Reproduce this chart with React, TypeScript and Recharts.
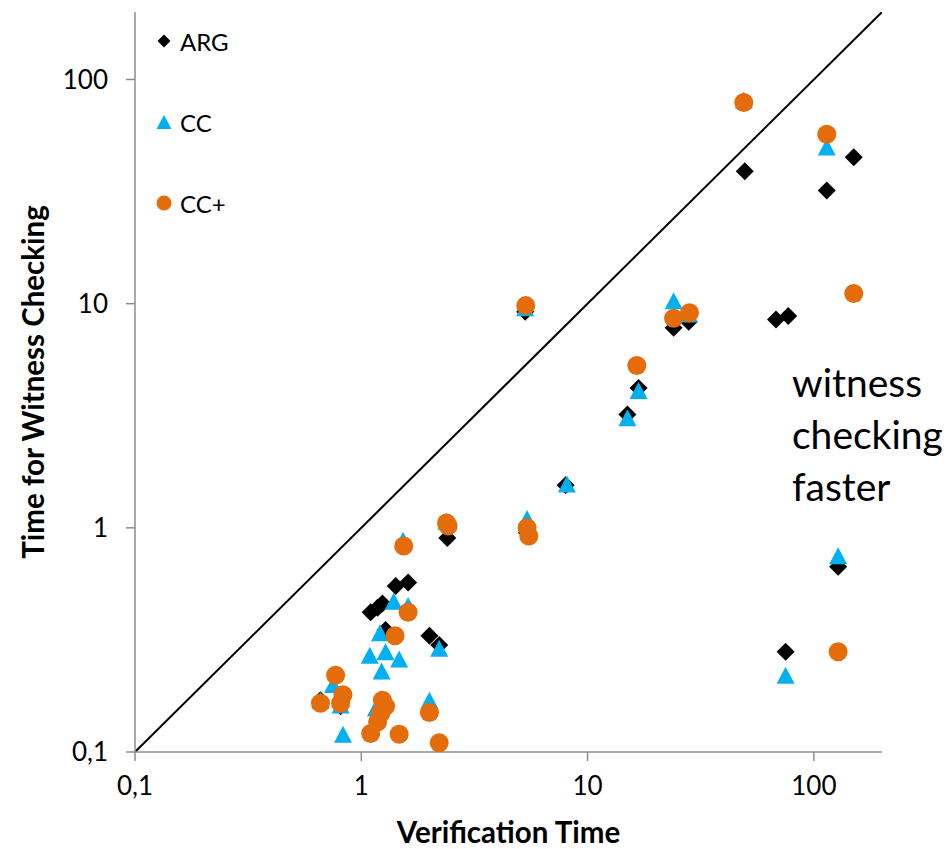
import React from 'react';
import { ScatterChart, Scatter, XAxis, YAxis, ReferenceLine } from 'recharts';

// ARG (black diamonds)
const argX = [0.66, 0.81, 1.1, 1.18, 1.24, 1.42, 1.61, 1.28, 2.0, 2.21, 2.4, 5.3, 5.4, 8.0, 15, 16.8, 24, 28, 49.5, 114, 150, 68, 77, 75, 128];
const argY = [0.17, 0.16, 0.42, 0.44, 0.46, 0.55, 0.57, 0.35, 0.33, 0.3, 0.9, 9.2, 0.95, 1.55, 3.2, 4.2, 7.8, 8.3, 39, 32, 45, 8.5, 8.8, 0.28, 0.67];

// CC (blue triangles)
const ccX = [0.66, 0.75, 0.81, 0.83, 1.09, 1.21, 1.28, 1.23, 1.47, 1.39, 1.61, 2.21, 2.0, 1.16, 1.53, 2.38, 5.3, 5.4, 8.1, 15, 16.8, 24, 28, 49, 114, 128, 75];
const ccY = [0.17, 0.2, 0.162, 0.12, 0.27, 0.34, 0.28, 0.23, 0.26, 0.47, 0.45, 0.29, 0.17, 0.157, 0.88, 1.07, 9.6, 1.1, 1.57, 3.1, 4.1, 10.3, 9.0, 81, 50, 0.75, 0.22];

// CC+ (orange circles)
const ccPlusX = [0.66, 0.77, 0.83, 0.81, 1.61, 1.41, 1.54, 1.1, 1.18, 1.22, 1.24, 1.28, 1.47, 2.0, 2.21, 2.38, 2.42, 5.4, 5.5, 5.33, 16.5, 24, 28.2, 49, 114, 150, 128];
const ccPlusY = [0.165, 0.22, 0.18, 0.165, 0.42, 0.33, 0.83, 0.121, 0.136, 0.149, 0.17, 0.16, 0.12, 0.15, 0.11, 1.05, 1.02, 1.0, 0.92, 9.8, 5.3, 8.6, 9.1, 79, 57, 11.1, 0.28];

const axisTicks = [0.1, 1, 10, 100];
const seriesNames = ['ARG', 'CC', 'CC+'];

const FONT = 'Lato, "Open Sans", sans-serif';
const AXIS_GRAY = '#8c8c8c';
const ORANGE = '#E46C0A';
const BLUE = '#00B0F0';

const toPoints = (xs: number[], ys: number[]) => xs.map((x, i) => ({ x, y: ys[i] }));

const Diamond = ({ cx, cy, r = 9, fill = '#000' }: any) => (
  <path d={`M${cx},${cy - r}L${cx + r},${cy}L${cx},${cy + r}L${cx - r},${cy}Z`} fill={fill} />
);
const Triangle = ({ cx, cy, w = 18, h = 17, fill = BLUE }: any) => (
  <path d={`M${cx},${cy - h / 2}L${cx + w / 2},${cy + h / 2}L${cx - w / 2},${cy + h / 2}Z`} fill={fill} />
);
const Dot = ({ cx, cy, r = 9.5, fill = ORANGE }: any) => <circle cx={cx} cy={cy} r={r} fill={fill} />;

const fmt = (v: number) => String(v).replace('.', ',');

// legend drawn as an overlay so it doesn't eat into the plot area
const LegendBox = () => {
  const icons = [
    <Diamond cx={8} cy={8} r={6.5} />,
    <Triangle cx={8} cy={8} w={15} h={14} />,
    <Dot cx={8} cy={8} r={7.5} />,
  ];
  return (
    <div style={{ position: 'absolute', left: 156, top: 25, fontFamily: FONT, fontSize: 24 }}>
      {seriesNames.map((n, i) => (
        <div key={n} style={{ display: 'flex', alignItems: 'center', height: 32, marginBottom: i < 2 ? 49 : 0 }}>
          <svg width={16} height={16} style={{ marginRight: 8 }}>
            {icons[i]}
          </svg>
          <span>{n}</span>
        </div>
      ))}
    </div>
  );
};

export default function App() {
  return (
    <div style={{ position: 'absolute', left: 0, top: 0, width: 946, height: 849, background: '#fff' }}>
      <ScatterChart width={946} height={849} margin={{ top: 12, right: 64, bottom: 0, left: 0 }}>
        <XAxis
          type="number"
          dataKey="x"
          scale="log"
          domain={[0.1, 200]}
          allowDataOverflow
          ticks={axisTicks}
          tickFormatter={fmt}
          height={97}
          stroke={AXIS_GRAY}
          strokeWidth={1.5}
          tickSize={9}
          tickMargin={16}
          tick={{ fill: '#000', fontSize: 26, fontFamily: FONT }}
          label={(props: any) => {
            const vb = props.viewBox;
            return (
              <text x={vb.x + vb.width / 2} y={vb.y + 91} textAnchor="middle" fontFamily={FONT} fontWeight="bold" fontSize={29.5} fill="#000">
                Verification Time
              </text>
            );
          }}
        />
        <YAxis
          type="number"
          dataKey="y"
          scale="log"
          domain={[0.1, 200]}
          allowDataOverflow
          ticks={axisTicks}
          tickFormatter={fmt}
          width={135}
          stroke={AXIS_GRAY}
          strokeWidth={1.5}
          tickSize={9}
          tickMargin={18}
          tick={{ fill: '#000', fontSize: 26, fontFamily: FONT }}
          label={(props: any) => {
            const vb = props.viewBox;
            const cx = vb.x + 44;
            const cy = vb.y + vb.height / 2;
            return (
              <text x={cx} y={cy} transform={`rotate(-90 ${cx} ${cy})`} textAnchor="middle" fontFamily={FONT} fontWeight="bold" fontSize={29.5} fill="#000">
                Time for Witness Checking
              </text>
            );
          }}
        />
        <ReferenceLine
          segment={[
            { x: 0.1, y: 0.1 },
            { x: 200, y: 200 },
          ]}
          stroke="#000"
          strokeWidth={2}
          ifOverflow="hidden"
        />
        <Scatter name="ARG" data={toPoints(argX, argY)} shape={(p: any) => <Diamond cx={p.cx} cy={p.cy} />} isAnimationActive={false} />
        <Scatter name="CC" data={toPoints(ccX, ccY)} shape={(p: any) => <Triangle cx={p.cx} cy={p.cy} />} isAnimationActive={false} />
        <Scatter name="CC+" data={toPoints(ccPlusX, ccPlusY)} shape={(p: any) => <Dot cx={p.cx} cy={p.cy} />} isAnimationActive={false} />
      </ScatterChart>
      <LegendBox />
      <div
        style={{
          position: 'absolute',
          left: 792,
          top: 356,
          fontFamily: FONT,
          fontSize: 39,
          lineHeight: '52px',
          color: '#000',
        }}
      >
        witness
        <br />
        checking
        <br />
        faster
      </div>
    </div>
  );
}
